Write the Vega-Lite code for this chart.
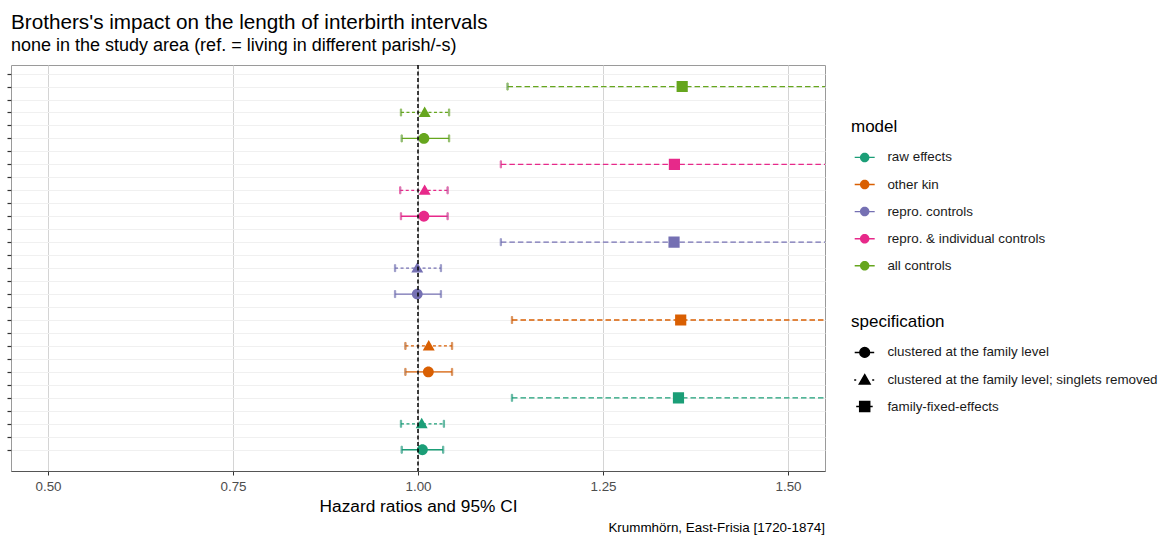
{
  "$schema": "https://vega.github.io/schema/vega-lite/v6.json",
  "autosize": {"type": "none"},
  "width": 814,
  "height": 406,
  "padding": {"left": 11, "top": 65, "right": 345, "bottom": 68},
  "title": {
    "text": "Brothers's impact on the length of interbirth intervals",
    "subtitle": "none in the study area (ref. = living in different parish/-s)",
    "anchor": "start",
    "frame": "group",
    "font": "Liberation Sans",
    "subtitleFont": "Liberation Sans",
    "fontSize": 20.7,
    "subtitleFontSize": 18,
    "fontWeight": "normal",
    "color": "#000000",
    "subtitleColor": "#000000",
    "offset": 8.5,
    "subtitlePadding": 3
  },
  "config": {
    "font": "Liberation Sans",
    "view": {"stroke": "#9a9a9a", "strokeWidth": 1}
  },
  "datasets": {
    "hr": [
      {"model": "all controls", "spec": "family-fixed-effects", "row": 2, "est": 1.357, "lo": 1.121, "hi": 1.643},
      {"model": "all controls", "spec": "clustered at the family level; singlets removed", "row": 4, "est": 1.009, "lo": 0.977, "hi": 1.042},
      {"model": "all controls", "spec": "clustered at the family level", "row": 6, "est": 1.008, "lo": 0.978, "hi": 1.042},
      {"model": "repro. & individual controls", "spec": "family-fixed-effects", "row": 8, "est": 1.3465, "lo": 1.112, "hi": 1.631},
      {"model": "repro. & individual controls", "spec": "clustered at the family level; singlets removed", "row": 10, "est": 1.009, "lo": 0.976, "hi": 1.04},
      {"model": "repro. & individual controls", "spec": "clustered at the family level", "row": 12, "est": 1.008, "lo": 0.977, "hi": 1.04},
      {"model": "repro. controls", "spec": "family-fixed-effects", "row": 14, "est": 1.346, "lo": 1.112, "hi": 1.63},
      {"model": "repro. controls", "spec": "clustered at the family level; singlets removed", "row": 16, "est": 0.999, "lo": 0.969, "hi": 1.031},
      {"model": "repro. controls", "spec": "clustered at the family level", "row": 18, "est": 0.999, "lo": 0.969, "hi": 1.031},
      {"model": "other kin", "spec": "family-fixed-effects", "row": 20, "est": 1.355, "lo": 1.127, "hi": 1.63},
      {"model": "other kin", "spec": "clustered at the family level; singlets removed", "row": 22, "est": 1.0145, "lo": 0.983, "hi": 1.046},
      {"model": "other kin", "spec": "clustered at the family level", "row": 24, "est": 1.014, "lo": 0.983, "hi": 1.046},
      {"model": "raw effects", "spec": "family-fixed-effects", "row": 26, "est": 1.352, "lo": 1.127, "hi": 1.622},
      {"model": "raw effects", "spec": "clustered at the family level; singlets removed", "row": 28, "est": 1.005, "lo": 0.977, "hi": 1.035},
      {"model": "raw effects", "spec": "clustered at the family level", "row": 30, "est": 1.006, "lo": 0.978, "hi": 1.034}
    ]
  },
  "layer": [
    {
      "data": {"name": "hr"},
      "mark": {"type": "rule", "clip": true, "strokeWidth": 1.3},
      "encoding": {
        "x": {
          "field": "lo", "type": "quantitative", "title": "Hazard ratios and 95% CI",
          "scale": {"domain": [0.45, 1.55], "nice": false, "zero": false},
          "axis": {
            "values": [0.5, 0.75, 1, 1.25, 1.5], "format": ".2f",
            "labelFontSize": 13.4, "labelColor": "#4d4d4d", "labelPadding": 4, "labelFlush": false,
            "tickSize": 4, "tickColor": "#333333", "tickWidth": 1,
            "domainColor": "#555555", "domainWidth": 1,
            "gridColor": "#d4d4d4", "gridWidth": 1,
            "titleFontSize": 17.3, "titleFontWeight": "normal", "titleColor": "#000000", "titlePadding": 5
          }
        },
        "x2": {"field": "hi"},
        "y": {
          "field": "row", "type": "quantitative", "title": null,
          "scale": {"domain": [0.34, 31.64], "reverse": true, "nice": false, "zero": false},
          "axis": {
            "values": [1, 2, 3, 4, 5, 6, 7, 8, 9, 10, 11, 12, 13, 14, 15, 16, 17, 18, 19, 20, 21, 22, 23, 24, 25, 26, 27, 28, 29, 30],
            "tickCount": 40,
            "labels": false, "domain": false,
            "tickSize": 4, "tickColor": "#333333", "tickWidth": 1.2,
            "gridColor": "#f0f0f0", "gridWidth": 1
          }
        },
        "stroke": {
          "field": "model", "type": "nominal", "legend": null,
          "scale": {
            "domain": ["all controls", "repro. & individual controls", "repro. controls", "other kin", "raw effects"],
            "range": ["#66A61E", "#E7298A", "#7570B3", "#D95F02", "#1B9E77"]
          }
        },
        "strokeDash": {
          "field": "spec", "type": "nominal", "legend": null,
          "scale": {
            "domain": ["family-fixed-effects", "clustered at the family level; singlets removed", "clustered at the family level"],
            "range": [[5.5, 3], [3, 2.5], [1, 0]]
          }
        }
      }
    },
    {
      "data": {"name": "hr"},
      "mark": {"type": "tick", "orient": "vertical", "clip": true, "size": 7, "thickness": 1.3},
      "encoding": {
        "x": {"field": "lo", "type": "quantitative", "title": "Hazard ratios and 95% CI"},
        "y": {"field": "row", "type": "quantitative", "title": null},
        "stroke": {"field": "model", "type": "nominal", "legend": null}
      }
    },
    {
      "data": {"name": "hr"},
      "mark": {"type": "tick", "orient": "vertical", "clip": true, "size": 7, "thickness": 1.3},
      "encoding": {
        "x": {"field": "hi", "type": "quantitative", "title": "Hazard ratios and 95% CI"},
        "y": {"field": "row", "type": "quantitative", "title": null},
        "stroke": {"field": "model", "type": "nominal", "legend": null}
      }
    },
    {
      "data": {"name": "hr"},
      "mark": {
        "type": "point", "filled": true, "opacity": 1, "size": 125,
        "shape": "M-2,-0.14L-0.9,-0.14L-0.9,0.14L-2,0.14ZM0.9,-0.14L2,-0.14L2,0.14L0.9,0.14ZM0.95,0A0.95,0.95,0,1,1,-0.95,0A0.95,0.95,0,1,1,0.95,0Z"
      },
      "encoding": {
        "x": {"field": "est", "type": "quantitative", "title": "Hazard ratios and 95% CI"},
        "y": {"field": "row", "type": "quantitative", "title": null},
        "color": {
          "field": "model", "type": "nominal",
          "scale": {
            "domain": ["raw effects", "other kin", "repro. controls", "repro. & individual controls", "all controls"],
            "range": ["#1B9E77", "#D95F02", "#7570B3", "#E7298A", "#66A61E"]
          },
          "legend": {
            "title": "model", "orient": "none", "legendX": 840, "legendY": 54,
            "titleFontSize": 17, "titleFontWeight": "normal", "titleColor": "#000000", "titlePadding": 14.7,
            "labelFontSize": 13.4, "labelColor": "#1a1a1a", "labelOffset": 16, "labelLimit": 400,
            "symbolSize": 100, "symbolStrokeWidth": 0, "symbolOffset": 7, "symbolOpacity": 1,
            "rowPadding": 12.1, "padding": 0
          }
        },
        "shape": {
          "field": "spec", "type": "nominal",
          "scale": {
            "domain": ["clustered at the family level", "clustered at the family level; singlets removed", "family-fixed-effects"],
            "range": [
              "M-2,0L-0.97,0M0.97,0L1.9,0M0.97,0A0.97,0.97,0,1,1,-0.97,0A0.97,0.97,0,1,1,0.97,0Z",
              "M-2.1,0L-1.7,0M1.5,0L1.9,0M0,-1.06L1.07,0.8L-1.07,0.8Z",
              "M-1.7,0L-1,0M1,0L1.6,0M-1,-1L1,-1L1,1L-1,1Z"
            ]
          },
          "legend": {
            "title": "specification", "orient": "none", "legendX": 840, "legendY": 249,
            "titleFontSize": 17, "titleFontWeight": "normal", "titleColor": "#000000", "titlePadding": 14.7,
            "labelFontSize": 13.4, "labelColor": "#1a1a1a", "labelOffset": 16, "labelLimit": 400,
            "symbolSize": 100, "symbolStrokeWidth": 1.5, "symbolOffset": 7, "symbolOpacity": 1,
            "symbolFillColor": "#000000", "symbolStrokeColor": "#000000",
            "rowPadding": 10.6, "padding": 0
          }
        }
      }
    },
    {
      "data": {"values": [{"ref": 1}]},
      "mark": {"type": "rule", "color": "#000000", "strokeWidth": 1.5, "strokeDash": [4, 2.5]},
      "encoding": {
        "x": {"field": "ref", "type": "quantitative", "title": "Hazard ratios and 95% CI"}
      }
    },
    {
      "data": {"values": [{"caption": "Krummhörn, East-Frisia [1720-1874]"}]},
      "mark": {"type": "text", "align": "right", "baseline": "alphabetic", "fontSize": 13.4, "color": "#000000", "dy": 61},
      "encoding": {
        "x": {"value": "width"},
        "y": {"value": "height"},
        "text": {"field": "caption"}
      }
    }
  ]
}
